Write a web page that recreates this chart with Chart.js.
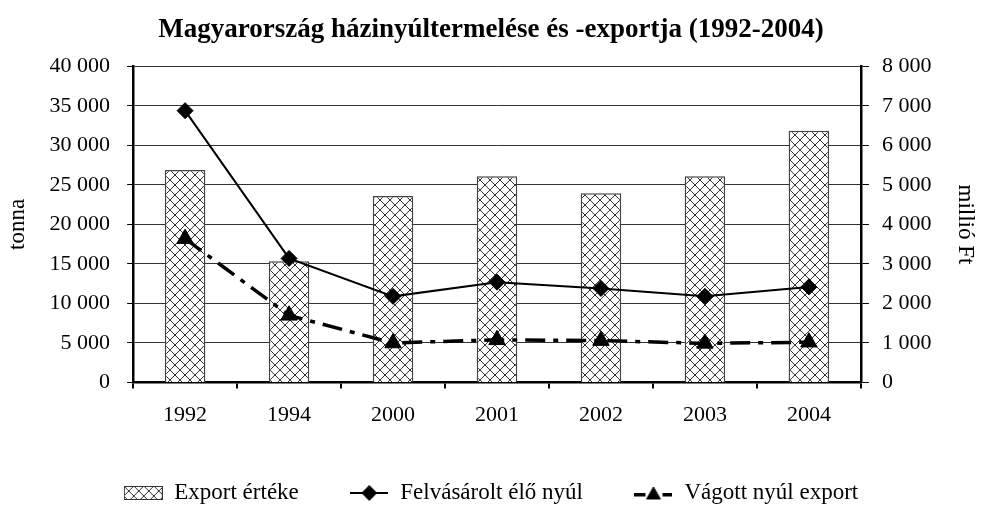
<!DOCTYPE html>
<html>
<head>
<meta charset="utf-8">
<script src="https://cdn.jsdelivr.net/npm/chart.js@4.4.1/dist/chart.umd.min.js"></script>
<style>
  body { margin: 0; background: #fff; }
  #wrap { width: 982px; height: 505px; }
</style>
</head>
<body>
<div id="wrap"><canvas id="rabbitChart" width="982" height="505"></canvas></div>
<script>
// values
const years = ['1992', '1994', '2000', '2001', '2002', '2003', '2004'];
const exportValue = [5380, 3070, 4720, 5220, 4790, 5220, 6370];      // millió Ft
const liveRabbit = [34400, 15700, 10900, 12700, 11900, 10900, 12100]; // tonna
const cutExport = [18200, 8500, 5000, 5400, 5300, 4950, 5100];        // tonna

const tonnaMax = 40000, tonnaStep = 5000;
const ftMax = 8000, ftStep = 1000;

const seriesNames = ['Export értéke', 'Felvásárolt élő nyúl', 'Vágott nyúl export'];

const serif = "'Liberation Serif', 'Times New Roman', serif";
Chart.defaults.font.family = serif;
Chart.defaults.font.size = 22;
Chart.defaults.color = '#000';

// thousands with a space: 40 000
function fmt(v) {
    return String(v).replace(/\B(?=(\d{3})+(?!\d))/g, ' ');
}

// crosshatch tile used for the bars
function hatchTile() {
    const c = document.createElement('canvas');
    c.width = 10; c.height = 10;
    const g = c.getContext('2d');
    g.fillStyle = '#fff';
    g.fillRect(0, 0, 10, 10);
    g.strokeStyle = '#333';
    g.lineWidth = 1;
    g.beginPath();
    g.moveTo(0, 0); g.lineTo(10, 10);
    g.moveTo(10, 0); g.lineTo(0, 10);
    g.stroke();
    return c;
}

const ctx = document.getElementById('rabbitChart').getContext('2d');
const hatch = ctx.createPattern(hatchTile(), 'repeat');

// legend icons
function iconHatch() {
    const c = document.createElement('canvas');
    c.width = 39; c.height = 14;
    const g = c.getContext('2d');
    g.fillStyle = g.createPattern(hatchTile(), 'repeat');
    g.fillRect(0, 0, 39, 14);
    g.strokeStyle = '#333';
    g.lineWidth = 1;
    g.strokeRect(0.5, 0.5, 38, 13);
    return c;
}
function iconLine() {
    const c = document.createElement('canvas');
    c.width = 38; c.height = 18;
    const g = c.getContext('2d');
    g.strokeStyle = '#000';
    g.lineWidth = 2;
    g.beginPath(); g.moveTo(0, 9); g.lineTo(38, 9); g.stroke();
    g.fillStyle = '#000';
    g.strokeStyle = '#000';
    Chart.helpers.drawPoint(g, { pointStyle: 'rectRot', radius: 6.5, borderWidth: 1 }, 19, 9);
    return c;
}
function iconDash() {
    const c = document.createElement('canvas');
    c.width = 38; c.height = 20;
    const g = c.getContext('2d');
    g.fillStyle = '#000';
    g.fillRect(0, 10, 11, 3.5);
    g.fillRect(28, 10, 10, 3.5);
    g.strokeStyle = '#000';
    Chart.helpers.drawPoint(g, { pointStyle: 'triangle', radius: 8, borderWidth: 1 }, 19, 12);
    return c;
}
const legendIcons = [iconHatch(), iconLine(), iconDash()];

new Chart(ctx, {
    type: 'bar',
    data: {
        labels: years,
        datasets: [{
            label: seriesNames[0],
            data: exportValue,
            yAxisID: 'y1',
            backgroundColor: hatch,
            borderColor: '#444',
            borderWidth: 1.5,
            barPercentage: 0.39,
            categoryPercentage: 1,
            order: 2
        }, {
            type: 'line',
            label: seriesNames[1],
            data: liveRabbit,
            yAxisID: 'y',
            borderColor: '#000',
            borderWidth: 2,
            pointStyle: 'rectRot',
            pointRadius: 8,
            pointBackgroundColor: '#000',
            pointBorderColor: '#000',
            pointBorderWidth: 1,
            tension: 0,
            order: 1
        }, {
            type: 'line',
            label: seriesNames[2],
            data: cutExport,
            yAxisID: 'y',
            borderColor: '#000',
            borderWidth: 3.5,
            borderDash: [20, 8, 5, 8],
            pointStyle: 'triangle',
            pointRadius: 9.5,
            pointBackgroundColor: '#000',
            pointBorderColor: '#000',
            pointBorderWidth: 1,
            tension: 0,
            order: 0
        }]
    },
    options: {
        responsive: false,
        animation: false,
        layout: { padding: 0 },
        plugins: {
            title: {
                display: true,
                text: 'Magyarország házinyúltermelése és -exportja (1992-2004)',
                font: { family: serif, size: 27, weight: 'bold' },
                color: '#000',
                padding: { top: 14, bottom: 20 }
            },
            legend: {
                position: 'bottom',
                maxHeight: 74.5,
                labels: {
                    usePointStyle: true,
                    pointStyleWidth: 39,
                    padding: 51,
                    font: { family: serif, size: 23 },
                    generateLabels: function (chart) {
                        return chart.data.datasets.map(function (ds, i) {
                            return {
                                text: ds.label,
                                pointStyle: legendIcons[i],
                                datasetIndex: i,
                                hidden: false,
                                lineWidth: 0,
                                fontColor: '#000'
                            };
                        });
                    }
                }
            },
            tooltip: { enabled: false }
        },
        scales: {
            x: {
                offset: true,
                border: { color: '#000', width: 2.5 },
                grid: {
                    offset: true,
                    drawOnChartArea: false,
                    tickLength: 6,
                    color: '#000',
                    lineWidth: 2
                },
                ticks: { padding: 14, font: { size: 22 } },
                afterFit: function (scale) { scale.height = 48; }
            },
            y: {
                position: 'left',
                min: 0,
                max: tonnaMax,
                border: { color: '#000', width: 2.5 },
                grid: { color: '#333', lineWidth: 1, tickLength: 6, tickColor: '#000' },
                ticks: {
                    stepSize: tonnaStep,
                    padding: 17,
                    font: { size: 22 },
                    callback: function (v) { return fmt(v); }
                },
                title: {
                    display: true,
                    text: 'tonna',
                    font: { family: serif, size: 23 },
                    padding: { top: 4, bottom: 1 }
                }
            },
            y1: {
                position: 'right',
                min: 0,
                max: ftMax,
                border: { color: '#000', width: 2.5 },
                grid: { drawOnChartArea: false, tickLength: 8, color: '#000', lineWidth: 1 },
                ticks: {
                    stepSize: ftStep,
                    padding: 13,
                    font: { size: 22 },
                    callback: function (v) { return fmt(v); }
                },
                title: {
                    display: true,
                    text: 'millió Ft',
                    font: { family: serif, size: 23 },
                    padding: { top: 3, bottom: 7 }
                }
            }
        }
    }
});
</script>
</body>
</html>
